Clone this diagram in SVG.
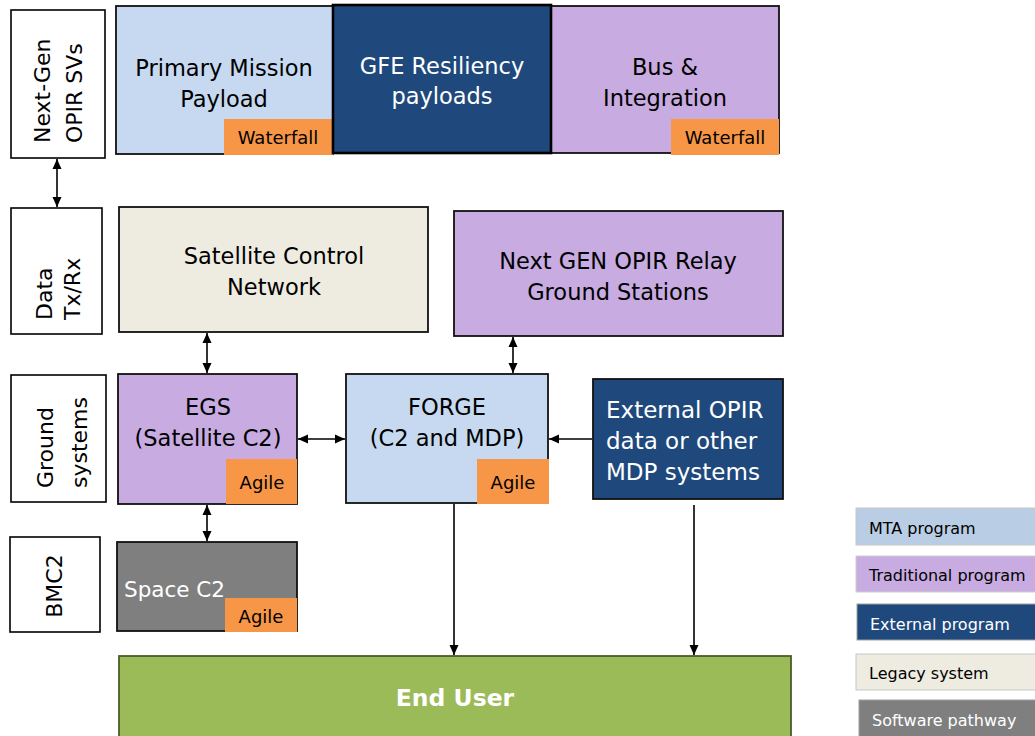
<svg xmlns="http://www.w3.org/2000/svg" width="1035" height="736" viewBox="0 0 1035 736">
<defs>
<marker id="ah" markerUnits="userSpaceOnUse" markerWidth="12" markerHeight="12" viewBox="0 0 12 12" refX="11" refY="6" orient="auto-start-reverse">
<path d="M1,1.5 L11,6 L1,10.5 Z" fill="#000"/>
</marker>
<style>
text{font-family:"DejaVu Sans","Liberation Sans",sans-serif;}
.lab{fill:#fff;stroke:#000;stroke-width:1.6;}
.box{stroke:#111;stroke-width:1.8;}
.blue{fill:#C6D9F0;}
.lav{fill:#C7ABE1;}
.navy{fill:#1F497D;}
.leg{fill:#EEECE1;}
.gray{fill:#7F7F7F;}
.tag{fill:#F79646;}
.t{font-size:22.5px;fill:#000;text-anchor:middle;}
.r{font-size:22px;}
.w{fill:#fff;}
.s{font-size:18px;fill:#000;text-anchor:middle;}
.lg{font-size:16px;fill:#000;}
.c{stroke:#000;stroke-width:1.6;fill:none;}
</style>
</defs>
<rect width="1035" height="736" fill="#fff"/>

<g id="row-labels">
<g id="lab-svs"><rect class="lab" x="11" y="10" width="94" height="148"/>
<text class="t r" style="text-anchor:start" transform="translate(50,143) rotate(-90)">Next-Gen</text>
<text class="t r" style="text-anchor:start" transform="translate(82,143) rotate(-90)">OPIR SVs</text></g>
<g id="lab-data"><rect class="lab" x="11" y="208" width="91" height="126"/>
<text class="t r" style="text-anchor:start" transform="translate(52,320) rotate(-90)">Data</text>
<text class="t r" style="text-anchor:start" transform="translate(80,320) rotate(-90)">Tx/Rx</text></g>
<g id="lab-ground"><rect class="lab" x="11" y="375" width="95" height="127"/>
<text class="t r" style="text-anchor:start" transform="translate(53,488) rotate(-90)">Ground</text>
<text class="t r" style="text-anchor:start" transform="translate(87,488) rotate(-90)">systems</text></g>
<g id="lab-bmc2"><rect class="lab" x="10" y="537" width="90" height="95"/>
<text class="t r" transform="translate(62,586) rotate(-90)">BMC2</text></g>
</g>

<g id="primary-payload"><rect class="box blue" x="116" y="6" width="217" height="148"/>
<text class="t" x="224" y="76">Primary Mission</text>
<text class="t" x="224" y="107">Payload</text>
<rect class="tag" x="224" y="119" width="109" height="36"/>
<text class="s" x="278" y="144">Waterfall</text></g>

<g id="bus-integration"><rect class="box lav" x="551" y="6" width="228" height="147"/>
<text class="t" x="665" y="75">Bus &amp;</text>
<text class="t" x="665" y="106">Integration</text>
<rect class="tag" x="671" y="119" width="108" height="36"/>
<text class="s" x="725" y="144">Waterfall</text></g>

<g id="gfe"><rect x="333" y="5" width="218" height="148" fill="#1F497D" stroke="#000" stroke-width="2.6"/>
<text class="t w" x="442" y="74">GFE Resiliency</text>
<text class="t w" x="442" y="104">payloads</text></g>

<g id="scn"><rect class="box leg" x="119" y="207" width="309" height="125"/>
<text class="t" x="274" y="264">Satellite Control</text>
<text class="t" x="274" y="295">Network</text></g>

<g id="relay"><rect class="box lav" x="454" y="211" width="329" height="125"/>
<text class="t" x="618" y="269">Next GEN OPIR Relay</text>
<text class="t" x="618" y="300">Ground Stations</text></g>

<g id="egs"><rect class="box lav" x="118" y="374" width="179" height="130"/>
<text class="t" x="208" y="415">EGS</text>
<text class="t" x="208" y="446">(Satellite C2)</text>
<rect class="tag" x="226" y="459" width="71" height="45"/>
<text class="s" x="262" y="489">Agile</text></g>

<g id="forge"><rect class="box blue" x="346" y="374" width="202" height="129"/>
<text class="t" x="447" y="415">FORGE</text>
<text class="t" x="447" y="446">(C2 and MDP)</text>
<rect class="tag" x="477" y="459" width="72" height="45"/>
<text class="s" x="513" y="489">Agile</text></g>

<g id="external"><rect class="box navy" x="593" y="379" width="190" height="120"/>
<text class="t w" style="text-anchor:start;font-size:23px" x="606" y="418">External OPIR</text>
<text class="t w" style="text-anchor:start;font-size:23px" x="606" y="449">data or other</text>
<text class="t w" style="text-anchor:start;font-size:23px" x="606" y="480">MDP systems</text></g>

<g id="space-c2"><rect class="box gray" x="117" y="542" width="180" height="89"/>
<text class="t w" style="text-anchor:start;font-size:21.5px" x="124" y="597">Space C2</text>
<rect class="tag" x="225" y="598" width="72" height="34"/>
<text class="s" x="261" y="623">Agile</text></g>

<g id="end-user"><rect x="119" y="656" width="672" height="84" fill="#9BBB59" stroke="#4a5e28" stroke-width="1.8"/>
<text x="455" y="706" style="font-size:23.5px;font-weight:bold;fill:#fff;text-anchor:middle">End User</text></g>

<g id="connectors">
<line class="c" x1="57" y1="159" x2="57" y2="207" marker-start="url(#ah)" marker-end="url(#ah)"/>
<line class="c" x1="207" y1="333" x2="207" y2="373" marker-start="url(#ah)" marker-end="url(#ah)"/>
<line class="c" x1="513" y1="337" x2="513" y2="373" marker-start="url(#ah)" marker-end="url(#ah)"/>
<line class="c" x1="298" y1="439" x2="345" y2="439" marker-start="url(#ah)" marker-end="url(#ah)"/>
<line class="c" x1="592" y1="439" x2="549" y2="439" marker-end="url(#ah)"/>
<line class="c" x1="207" y1="505" x2="207" y2="541" marker-start="url(#ah)" marker-end="url(#ah)"/>
<line class="c" x1="454" y1="504" x2="454" y2="655" marker-end="url(#ah)"/>
<line class="c" x1="694" y1="505" x2="694" y2="655" marker-end="url(#ah)"/>
</g>

<g id="legend">
<g id="leg-mta"><rect x="856" y="508" width="180" height="37" fill="#B9CDE5" stroke="#c8c8c8"/>
<text class="lg" x="869" y="534">MTA program</text></g>
<g id="leg-trad"><rect x="856" y="556" width="180" height="36" fill="#C7ABE1" stroke="#d0d0d0"/>
<text class="lg" x="869" y="581">Traditional program</text></g>
<g id="leg-ext"><rect x="857" y="604" width="179" height="36" fill="#1F497D" stroke="#a0a0a0"/>
<text class="lg" x="870" y="630" style="fill:#fff">External program</text></g>
<g id="leg-legacy"><rect x="856" y="654" width="180" height="36" fill="#EEECE1" stroke="#c8c8c8"/>
<text class="lg" x="869" y="679">Legacy system</text></g>
<g id="leg-sw"><rect x="859" y="700" width="177" height="37" fill="#7F7F7F" stroke="#a0a0a0"/>
<text class="lg" x="872" y="726" style="fill:#fff">Software pathway</text></g>
</g>
</svg>
